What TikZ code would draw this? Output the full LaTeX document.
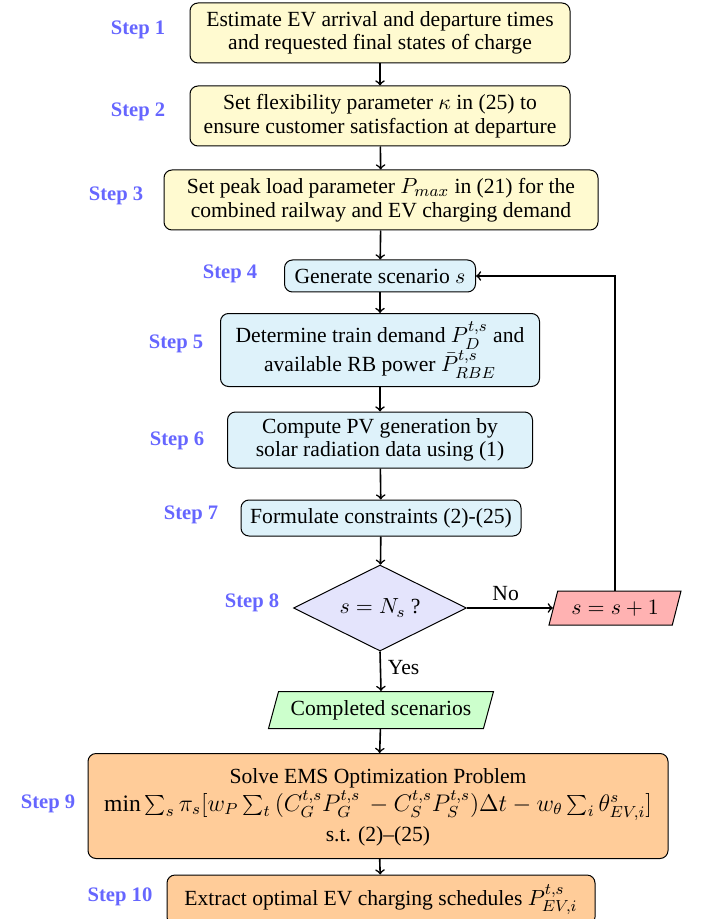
\documentclass[tikz,border=0pt]{standalone}
\usepackage{fontspec}
\setmainfont{Liberation Serif}
\usetikzlibrary{shapes.geometric}
\definecolor{ybox}{RGB}{255,250,208}
\definecolor{bbox}{RGB}{222,242,250}
\definecolor{dbox}{RGB}{228,228,252}
\definecolor{rbox}{RGB}{255,178,178}
\definecolor{gbox}{RGB}{204,255,204}
\definecolor{obox}{RGB}{255,204,153}
\definecolor{steplbl}{RGB}{102,102,255}
\begin{document}
\begin{tikzpicture}[x=0.5pt,y=-0.5pt,
  every node/.style={font=\fontsize{10.8pt}{11.8pt}\selectfont},
  box/.style={draw, rounded corners=4pt, align=center, inner sep=2pt, line width=0.5pt},
  ybx/.style={box, fill=ybox},
  bbx/.style={box, fill=bbox},
  obx/.style={box, fill=obox},
  para/.style={draw, trapezium, trapezium left angle=70, trapezium right angle=110,
    trapezium stretches body, inner sep=2pt, line width=0.5pt},
  steplabel/.style={text=steplbl, font=\fontsize{10.3pt}{12pt}\selectfont\bfseries},
  arr/.style={->, line width=0.8pt}]
\useasboundingbox (0,0) rectangle (702,919);

\node[ybx, minimum width=190pt, minimum height=30pt] (b1) at (380,33)
  {Estimate EV arrival and departure times\\and requested final states of charge};
\node[ybx, minimum width=190pt, minimum height=30pt] (b2) at (380,116)
  {Set flexibility parameter $\kappa$ in (25) to\\ensure customer satisfaction at departure};
\node[ybx, minimum width=217pt, minimum height=30pt] (b3) at (381,200)
  {Set peak load parameter $P_{max}$ in (21) for the\\combined railway and EV charging demand};
\node[bbx, minimum width=95.5pt, minimum height=16pt] (b4) at (380,276)
  {Generate scenario $s$};
\node[bbx, minimum width=159.5pt, minimum height=36.5pt] (b5) at (380,350)
  {Determine train demand $P_D^{t,s}$ and\\available RB power $\bar{P}_{RBE}^{t,s}$};
\node[bbx, minimum width=152.5pt, minimum height=28pt] (b6) at (380,440)
  {Compute PV generation by\\solar radiation data using (1)};
\node[bbx, minimum width=140pt, minimum height=18pt] (b7) at (381,518)
  {Formulate constraints (2)-(25)};
\node[draw, diamond, aspect=2, fill=dbox, minimum width=86.5pt, minimum height=43pt,
  inner sep=0pt, line width=0.5pt] (d8) at (380,608) {$s = N_s$ ?};
\node[para, fill=rbox, minimum width=66pt, minimum height=17pt] (inc) at (615,608)
  {$s = s + 1$};
\node[para, fill=gbox, minimum width=112.5pt, minimum height=18.5pt] (done) at (381,710)
  {Completed scenarios};
\node[obx, minimum width=290pt, minimum height=52.5pt, text depth=1pt] (b9) at (378,806)
  {Solve EMS Optimization Problem\\[0pt]
   {\fontsize{11.8pt}{13pt}\selectfont $\min \sum_s \pi_s [w_P \sum_t\, (C_G^{t,s} P_G^{t,s}\, - C_S^{t,s} P_S^{t,s})\Delta t - w_\theta \sum_i \theta^s_{EV,i}]$}\\[2pt]
   s.t. (2)--(25)};
\node[obx, minimum width=214pt, minimum height=25pt] (b10) at (381,900)
  {Extract optimal EV charging schedules $P_{EV,i}^{t,s}$};

\node[steplabel] (s1) at (138,30) {Step 1};
\node[steplabel] (s2) at (138,112) {Step 2};
\node[steplabel] (s3) at (116,196) {Step 3};
\node[steplabel] (s4) at (230,274) {Step 4};
\node[steplabel] (s5) at (176,344) {Step 5};
\node[steplabel] (s6) at (177,441) {Step 6};
\node[steplabel] (s7) at (191,515) {Step 7};
\node[steplabel] (s8) at (252,603) {Step 8};
\node[steplabel] (s9) at (48,804) {Step 9};
\node[steplabel] (s10) at (120,897) {Step 10};

\draw[arr] (b1) -- (b2);
\draw[arr] (b2) -- (b3);
\draw[arr] (b3) -- (b4);
\draw[arr] (b4) -- (b5);
\draw[arr] (b5) -- (b6);
\draw[arr] (b6) -- (b7);
\draw[arr] (b7) -- (d8);
\draw[arr] (d8.east) -- node[above, pos=0.45] (no) {No} (inc.west);
\draw[arr] (inc.north) |- (b4.east);
\draw[arr] (d8.south) -- node[right, pos=0.4] (yes) {Yes} (done.north);
\draw[arr] (done) -- (b9);
\draw[arr] (b9) -- (b10);
\end{tikzpicture}
\end{document}
